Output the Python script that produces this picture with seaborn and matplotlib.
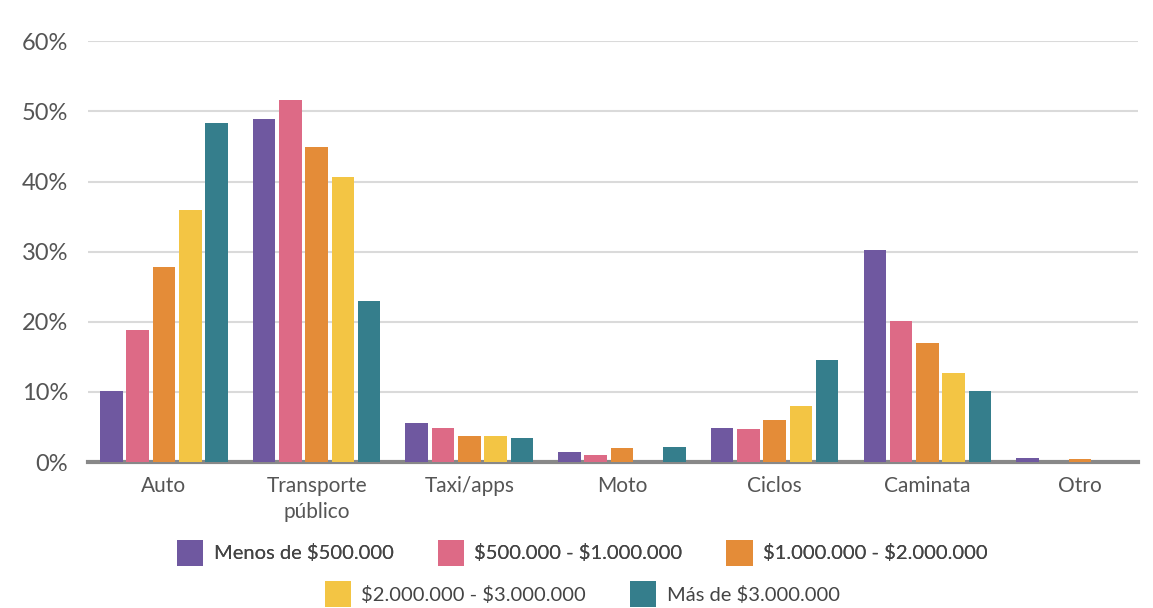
import pandas as pd
import matplotlib
import matplotlib.pyplot as plt
import seaborn as sns

matplotlib.use("Agg")

modos = ["Auto", "Transporte\npúblico", "Taxi/apps", "Moto", "Ciclos", "Caminata", "Otro"]
ingresos = ["Menos de \\$500.000", "\\$500.000 - \\$1.000.000", "\\$1.000.000 - \\$2.000.000",
            "\\$2.000.000 - \\$3.000.000", "Más de \\$3.000.000"]

menos_500 = [10.1, 48.9, 5.6, 1.4, 4.8, 30.2, 0.6]
de_500_1m = [18.8, 51.7, 4.8, 1.0, 4.7, 20.1, 0.0]
de_1m_2m = [27.8, 45.0, 3.7, 2.0, 6.0, 17.0, 0.45]
de_2m_3m = [36.0, 40.6, 3.7, 0.0, 8.0, 12.7, 0.0]
mas_3m = [48.4, 22.9, 3.4, 2.1, 14.5, 10.1, 0.0]

colores = ["#6f58a0", "#dd6a86", "#e48c38", "#f3c544", "#357e8c"]

series = [menos_500, de_500_1m, de_1m_2m, de_2m_3m, mas_3m]
df = pd.DataFrame(
    [(m, ing, v) for ing, vals in zip(ingresos, series) for m, v in zip(modos, vals)],
    columns=["Modo", "Ingreso", "Pct"],
)

sns.set_style("white")
plt.rcParams['font.family'] = ['Lato', 'DejaVu Sans']

fig, ax = plt.subplots(figsize=(11.53, 6.08), dpi=100)
fig.subplots_adjust(left=0.076, right=0.987, top=0.932, bottom=0.24)

sns.barplot(data=df, x="Modo", y="Pct", hue="Ingreso", hue_order=ingresos,
            palette=colores, width=0.86, gap=0.14, saturation=1, linewidth=0, ax=ax)

handles, labels = ax.get_legend_handles_labels()
ax.get_legend().remove()

ax.set_ylim(0, 60)
ax.set_xlim(-0.5, 6.38)
ax.set_yticks(range(0, 61, 10))
ax.set_yticklabels([f"{v}%" for v in range(0, 61, 10)])
ax.yaxis.grid(True, color="#dadada", linewidth=1.5)
ax.set_axisbelow(True)
for s in ["top", "right", "left"]:
    ax.spines[s].set_visible(False)
ax.spines["bottom"].set_color("#888888")
ax.spines["bottom"].set_linewidth(3)
ax.spines["bottom"].set_zorder(0.8)
ax.tick_params(axis="y", length=0, labelsize=17, labelcolor="#555555", pad=14)
ax.tick_params(axis="x", length=0, labelsize=15, labelcolor="#555555", pad=10)
for t in ax.get_xticklabels():
    t.set_linespacing(1.35)
ax.set_xlabel("")
ax.set_ylabel("")

leg1 = fig.legend(handles[:3], labels[:3], loc="center", bbox_to_anchor=(0.505, 0.091),
                  ncol=3, frameon=False, fontsize=14.5, handlelength=1.3, handleheight=1.6,
                  columnspacing=2.2, handletextpad=0.5, labelcolor="#444444")
leg2 = fig.legend(handles[3:], labels[3:], loc="center", bbox_to_anchor=(0.505, 0.023),
                  ncol=2, frameon=False, fontsize=14.5, handlelength=1.3, handleheight=1.6,
                  columnspacing=2.2, handletextpad=0.5, labelcolor="#444444")
fig.add_artist(leg1)

fig.savefig("out.png", dpi=100)
